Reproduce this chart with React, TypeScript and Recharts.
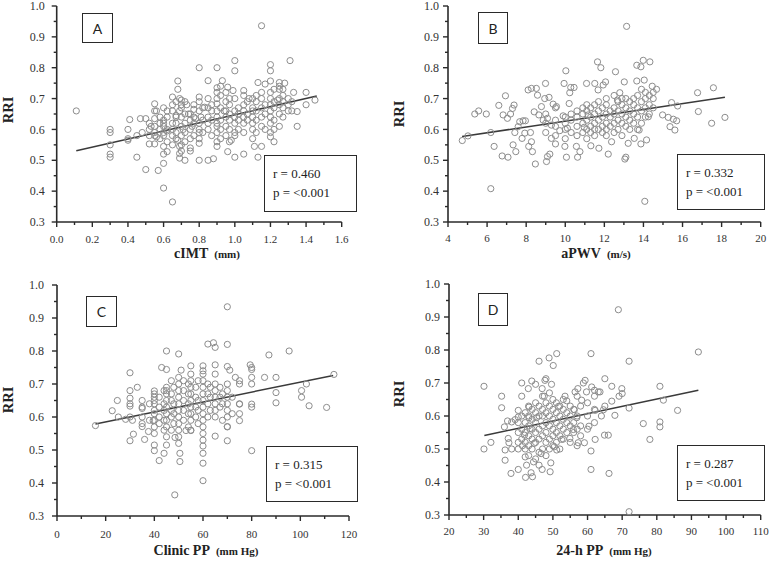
import React from "react"
import { ScatterChart, Scatter, XAxis, YAxis, ReferenceLine } from "recharts"

// RRI axis (shared by the four panels)
const rriMajor = [0.3, 0.4, 0.5, 0.6, 0.7, 0.8, 0.9, 1.0]
const rriMinor = [0.35, 0.45, 0.55, 0.65, 0.75, 0.85, 0.95]

// A: cIMT (mm)
const cimtMajor = [0, 0.2, 0.4, 0.6, 0.8, 1.0, 1.2, 1.4, 1.6]
const cimtMinor = [0.1, 0.3, 0.5, 0.7, 0.9, 1.1, 1.3, 1.5]
const cimtFit = [{ x: 0.11, y: 0.531 }, { x: 1.46, y: 0.708 }]
const cimtPoints: [number, number][] = [
  [0.11, 0.66], [0.3, 0.6], [0.3, 0.59], [0.3, 0.55], [0.3, 0.52], [0.3, 0.51], [0.4, 0.6], [0.4, 0.57],
  [0.4, 0.565], [0.41, 0.632], [0.45, 0.51], [0.45, 0.58], [0.47, 0.635], [0.5, 0.635], [0.48, 0.59],
  [0.5, 0.47], [0.52, 0.553], [0.53, 0.61], [0.55, 0.683], [0.55, 0.635], [0.55, 0.553], [0.56, 0.66],
  [0.56, 0.576], [0.57, 0.467], [0.58, 0.6], [0.6, 0.67], [0.6, 0.63], [0.6, 0.545], [0.6, 0.52],
  [0.6, 0.49], [0.6, 0.41], [0.62, 0.595], [0.62, 0.528], [0.65, 0.705], [0.65, 0.68], [0.65, 0.365],
  [0.67, 0.645], [0.68, 0.757], [0.68, 0.73], [0.68, 0.565], [0.69, 0.7], [0.69, 0.66], [0.69, 0.545],
  [0.69, 0.522], [0.69, 0.507], [0.7, 0.695], [0.71, 0.6], [0.72, 0.5], [0.73, 0.68], [0.74, 0.65],
  [0.75, 0.53], [0.76, 0.61], [0.77, 0.665], [0.78, 0.635], [0.8, 0.8], [0.8, 0.705], [0.8, 0.59],
  [0.8, 0.555], [0.8, 0.5], [0.81, 0.64], [0.83, 0.672], [0.85, 0.758], [0.85, 0.5], [0.88, 0.505],
  [0.9, 0.8], [0.9, 0.735], [0.9, 0.683], [0.9, 0.61], [0.9, 0.545], [0.93, 0.758], [0.94, 0.66],
  [0.96, 0.737], [0.96, 0.528], [0.98, 0.565], [0.99, 0.726], [1.0, 0.823], [1.0, 0.79], [1.0, 0.51],
  [1.0, 0.59], [1.05, 0.726], [1.05, 0.52], [1.08, 0.7], [1.1, 0.66], [1.11, 0.545], [1.13, 0.752],
  [1.13, 0.51], [1.15, 0.936], [1.15, 0.545], [1.17, 0.747], [1.2, 0.81], [1.2, 0.79], [1.2, 0.757],
  [1.2, 0.576], [1.22, 0.56], [1.24, 0.695], [1.25, 0.752], [1.28, 0.75], [1.31, 0.823], [1.33, 0.72],
  [1.35, 0.61], [1.35, 0.658], [1.4, 0.72], [1.4, 0.68], [1.45, 0.695],
  [0.52, 0.58], [0.52, 0.6], [0.52, 0.62], [0.55, 0.59], [0.55, 0.61], [0.55, 0.58], [0.55, 0.66],
  [0.58, 0.57], [0.58, 0.62], [0.58, 0.64], [0.6, 0.58], [0.6, 0.59], [0.6, 0.62], [0.6, 0.61],
  [0.62, 0.56], [0.62, 0.6], [0.62, 0.64], [0.62, 0.66], [0.65, 0.55], [0.65, 0.58], [0.65, 0.6],
  [0.65, 0.62], [0.65, 0.66], [0.67, 0.57], [0.67, 0.59], [0.67, 0.62], [0.67, 0.64], [0.67, 0.69],
  [0.7, 0.53], [0.7, 0.55], [0.7, 0.58], [0.7, 0.61], [0.7, 0.64], [0.7, 0.67], [0.7, 0.68],
  [0.72, 0.56], [0.72, 0.59], [0.72, 0.62], [0.72, 0.65], [0.72, 0.69], [0.75, 0.54], [0.75, 0.57],
  [0.75, 0.6], [0.75, 0.63], [0.75, 0.65], [0.77, 0.58], [0.77, 0.62], [0.77, 0.64], [0.77, 0.68],
  [0.8, 0.57], [0.8, 0.6], [0.8, 0.62], [0.8, 0.66], [0.8, 0.69], [0.82, 0.59], [0.82, 0.63],
  [0.82, 0.67], [0.85, 0.6], [0.85, 0.62], [0.85, 0.64], [0.85, 0.67], [0.85, 0.7], [0.87, 0.58],
  [0.87, 0.63], [0.87, 0.66], [0.87, 0.68], [0.9, 0.56], [0.9, 0.59], [0.9, 0.62], [0.9, 0.64],
  [0.9, 0.66], [0.9, 0.7], [0.9, 0.72], [0.92, 0.57], [0.92, 0.6], [0.92, 0.63], [0.92, 0.67],
  [0.92, 0.71], [0.92, 0.74], [0.95, 0.58], [0.95, 0.61], [0.95, 0.64], [0.95, 0.66], [0.95, 0.69],
  [0.95, 0.72], [0.97, 0.56], [0.97, 0.6], [0.97, 0.63], [0.97, 0.65], [0.97, 0.68], [0.97, 0.7],
  [1.0, 0.58], [1.0, 0.62], [1.0, 0.64], [1.0, 0.66], [1.0, 0.7], [1.02, 0.6], [1.02, 0.63],
  [1.02, 0.65], [1.02, 0.67], [1.05, 0.59], [1.05, 0.62], [1.05, 0.64], [1.05, 0.66], [1.05, 0.68],
  [1.05, 0.71], [1.07, 0.63], [1.07, 0.65], [1.07, 0.69], [1.1, 0.57], [1.1, 0.6], [1.1, 0.62],
  [1.1, 0.64], [1.1, 0.67], [1.1, 0.7], [1.12, 0.59], [1.12, 0.63], [1.12, 0.66], [1.12, 0.69],
  [1.12, 0.71], [1.15, 0.61], [1.15, 0.64], [1.15, 0.67], [1.15, 0.7], [1.15, 0.72], [1.17, 0.6],
  [1.17, 0.65], [1.17, 0.68], [1.2, 0.59], [1.2, 0.62], [1.2, 0.64], [1.2, 0.66], [1.2, 0.68],
  [1.2, 0.7], [1.2, 0.72], [1.22, 0.6], [1.22, 0.63], [1.22, 0.67], [1.22, 0.69], [1.22, 0.73],
  [1.25, 0.61], [1.25, 0.65], [1.25, 0.68], [1.25, 0.7], [1.25, 0.73], [1.25, 0.74], [1.27, 0.64],
  [1.27, 0.67], [1.27, 0.69], [1.27, 0.71], [1.27, 0.73], [1.3, 0.66], [1.3, 0.68], [1.3, 0.7],
  [1.32, 0.66], [1.32, 0.69],
]

// B: aPWV (m/s)
const pwvMajor = [4, 6, 8, 10, 12, 14, 16, 18, 20]
const pwvMinor = [5, 7, 9, 11, 13, 15, 17, 19]
const pwvFit = [{ x: 4.72, y: 0.577 }, { x: 18.17, y: 0.704 }]
const pwvPoints: [number, number][] = [
  [4.73, 0.564], [5.02, 0.579], [5.37, 0.65], [5.57, 0.66], [5.96, 0.65], [6.19, 0.59], [6.19, 0.408],
  [6.36, 0.545], [6.6, 0.678], [6.77, 0.514], [6.82, 0.647], [6.94, 0.709], [7.04, 0.636], [7.07, 0.51],
  [7.2, 0.65], [7.3, 0.668], [7.33, 0.55], [7.38, 0.679], [7.42, 0.59], [7.47, 0.528], [7.59, 0.609],
  [7.67, 0.625], [7.79, 0.571], [7.84, 0.628], [7.93, 0.588], [7.96, 0.628], [8.1, 0.728], [8.13, 0.545],
  [8.22, 0.59], [8.27, 0.56], [8.32, 0.528], [8.27, 0.733], [8.41, 0.657], [8.47, 0.488], [8.52, 0.733],
  [8.58, 0.711], [8.65, 0.647], [8.78, 0.674], [8.87, 0.63], [8.95, 0.7], [8.99, 0.749], [9.09, 0.512],
  [9.04, 0.496], [9.09, 0.636], [9.17, 0.704], [9.21, 0.52], [9.29, 0.614], [9.29, 0.571], [9.38, 0.682],
  [9.5, 0.553], [9.55, 0.674], [9.72, 0.596], [9.89, 0.644], [9.94, 0.749], [9.98, 0.545], [10.03, 0.79],
  [10.06, 0.51], [10.11, 0.604], [10.2, 0.684], [10.23, 0.719], [10.28, 0.736], [10.45, 0.736],
  [10.57, 0.545], [10.63, 0.51], [10.75, 0.528], [10.97, 0.607], [11.09, 0.749], [11.17, 0.647],
  [11.31, 0.547], [11.51, 0.749], [11.65, 0.819], [11.68, 0.728], [11.72, 0.539], [11.82, 0.8],
  [11.94, 0.744], [12.06, 0.754], [12.2, 0.52], [12.37, 0.56], [12.57, 0.787], [12.67, 0.695],
  [12.79, 0.719], [13.02, 0.754], [13.05, 0.504], [13.1, 0.51], [13.14, 0.934], [13.22, 0.555],
  [13.53, 0.571], [13.66, 0.757], [13.66, 0.808], [13.78, 0.598], [13.87, 0.803], [13.87, 0.553],
  [13.99, 0.824], [14.04, 0.76], [14.07, 0.367], [14.16, 0.566], [14.25, 0.641], [14.33, 0.819],
  [14.45, 0.74], [14.67, 0.73], [14.98, 0.647], [15.27, 0.639], [15.36, 0.609], [15.44, 0.687],
  [15.53, 0.633], [15.61, 0.598], [15.7, 0.628], [15.75, 0.676], [16.77, 0.719], [16.81, 0.658],
  [17.49, 0.62], [17.58, 0.735], [18.17, 0.639],
  [9.0, 0.59], [9.0, 0.62], [9.0, 0.65], [9.5, 0.58], [9.5, 0.61], [9.5, 0.63], [9.5, 0.67],
  [10.0, 0.57], [10.0, 0.6], [10.0, 0.62], [10.0, 0.64], [10.3, 0.59], [10.3, 0.63], [10.3, 0.65],
  [10.6, 0.58], [10.6, 0.61], [10.6, 0.64], [10.6, 0.66], [10.9, 0.59], [10.9, 0.62], [10.9, 0.65],
  [10.9, 0.67], [11.1, 0.57], [11.1, 0.6], [11.1, 0.63], [11.1, 0.66], [11.1, 0.68], [11.3, 0.59],
  [11.3, 0.61], [11.3, 0.64], [11.3, 0.67], [11.5, 0.58], [11.5, 0.6], [11.5, 0.62], [11.5, 0.65],
  [11.5, 0.68], [11.7, 0.6], [11.7, 0.63], [11.7, 0.66], [11.7, 0.69], [11.9, 0.59], [11.9, 0.61],
  [11.9, 0.64], [11.9, 0.67], [12.1, 0.58], [12.1, 0.6], [12.1, 0.62], [12.1, 0.65], [12.1, 0.68],
  [12.1, 0.7], [12.3, 0.61], [12.3, 0.64], [12.3, 0.66], [12.5, 0.59], [12.5, 0.62], [12.5, 0.65],
  [12.5, 0.67], [12.5, 0.71], [12.7, 0.6], [12.7, 0.63], [12.7, 0.66], [12.7, 0.69], [12.9, 0.58],
  [12.9, 0.62], [12.9, 0.65], [12.9, 0.68], [12.9, 0.7], [13.1, 0.61], [13.1, 0.64], [13.1, 0.67],
  [13.1, 0.7], [13.3, 0.6], [13.3, 0.63], [13.3, 0.66], [13.3, 0.69], [13.5, 0.62], [13.5, 0.65],
  [13.5, 0.68], [13.5, 0.7], [13.7, 0.6], [13.7, 0.64], [13.7, 0.67], [13.7, 0.71], [13.9, 0.62],
  [13.9, 0.66], [13.9, 0.69], [13.9, 0.73], [14.1, 0.64], [14.1, 0.67], [14.1, 0.7], [14.1, 0.72],
  [14.3, 0.65], [14.3, 0.68], [14.3, 0.71], [14.5, 0.67], [14.5, 0.7], [14.5, 0.72],
]

// C: Clinic PP (mm Hg)
const clinicMajor = [0, 20, 40, 60, 80, 100, 120]
const clinicMinor = [10, 30, 50, 70, 90, 110]
const clinicFit = [{ x: 15.8, y: 0.579 }, { x: 113.5, y: 0.726 }]
const clinicPoints: [number, number][] = [
  [15.8, 0.574], [22.7, 0.619], [24.8, 0.65], [25.2, 0.6], [28.2, 0.593], [30, 0.734], [30, 0.68],
  [30, 0.657], [30, 0.633], [30, 0.528], [31, 0.59], [31.4, 0.548], [33, 0.69], [35, 0.65], [35, 0.626],
  [35, 0.6], [35, 0.571], [36, 0.532], [37.6, 0.556], [39.5, 0.589], [40, 0.679], [40, 0.515],
  [40, 0.498], [42, 0.468], [43, 0.75], [44, 0.49], [45, 0.744], [45, 0.8], [45, 0.515], [47, 0.71],
  [48.5, 0.538], [48.4, 0.364], [50, 0.791], [50.5, 0.49], [50.5, 0.465], [51, 0.742], [53, 0.559],
  [55, 0.755], [55, 0.559], [60, 0.46], [60, 0.407], [60, 0.755], [60, 0.49], [60, 0.512], [62, 0.821],
  [64.3, 0.825], [65, 0.811], [65, 0.542], [65, 0.758], [70, 0.934], [70, 0.82], [70, 0.753], [70, 0.528],
  [70, 0.571], [71, 0.742], [73.3, 0.72], [75, 0.71], [75, 0.639], [75, 0.589], [79.4, 0.758],
  [80, 0.744], [80, 0.498], [80, 0.639], [80, 0.7], [85.3, 0.72], [87.1, 0.788], [90, 0.72], [90, 0.674],
  [90, 0.643], [95.4, 0.8], [100.5, 0.68], [100.5, 0.66], [102.5, 0.7], [103.6, 0.634], [110.8, 0.629],
  [113.8, 0.729],
  [30, 0.6], [30, 0.64], [35, 0.58], [35, 0.63], [38, 0.59], [38, 0.64], [40, 0.55], [40, 0.57],
  [40, 0.59], [40, 0.61], [40, 0.62], [40, 0.64], [40, 0.65], [40, 0.66], [40, 0.67], [42, 0.58],
  [42, 0.6], [42, 0.63], [42, 0.66], [44, 0.56], [44, 0.59], [44, 0.62], [44, 0.64], [44, 0.68],
  [45, 0.54], [45, 0.57], [45, 0.59], [45, 0.61], [45, 0.63], [45, 0.65], [45, 0.67], [45, 0.68],
  [45, 0.69], [47, 0.56], [47, 0.6], [47, 0.62], [47, 0.65], [47, 0.67], [48, 0.58], [48, 0.61],
  [48, 0.64], [48, 0.69], [50, 0.52], [50, 0.54], [50, 0.56], [50, 0.58], [50, 0.6], [50, 0.62],
  [50, 0.64], [50, 0.66], [50, 0.68], [50, 0.7], [50, 0.72], [52, 0.59], [52, 0.62], [52, 0.65],
  [52, 0.68], [52, 0.71], [54, 0.57], [54, 0.61], [54, 0.64], [54, 0.67], [54, 0.7], [55, 0.56],
  [55, 0.59], [55, 0.61], [55, 0.63], [55, 0.65], [55, 0.67], [55, 0.69], [55, 0.71], [55, 0.73],
  [57, 0.6], [57, 0.63], [57, 0.66], [57, 0.69], [58, 0.58], [58, 0.62], [58, 0.65], [58, 0.71],
  [60, 0.53], [60, 0.55], [60, 0.57], [60, 0.59], [60, 0.61], [60, 0.63], [60, 0.65], [60, 0.67],
  [60, 0.69], [60, 0.71], [60, 0.73], [60, 0.74], [62, 0.6], [62, 0.64], [62, 0.67], [62, 0.7],
  [63, 0.62], [63, 0.66], [63, 0.69], [65, 0.6], [65, 0.62], [65, 0.64], [65, 0.66], [65, 0.68],
  [65, 0.7], [65, 0.73], [67, 0.63], [67, 0.66], [67, 0.69], [68, 0.59], [68, 0.64], [68, 0.67],
  [70, 0.57], [70, 0.6], [70, 0.62], [70, 0.64], [70, 0.66], [70, 0.68], [70, 0.7], [72, 0.61],
  [72, 0.66], [75, 0.61], [75, 0.64], [75, 0.7], [80, 0.63], [80, 0.72], [80, 0.75],
]

// D: 24-h PP (mm Hg)
const ambMajor = [20, 30, 40, 50, 60, 70, 80, 90, 100, 110]
const ambMinor = [25, 35, 45, 55, 65, 75, 85, 95, 105]
const ambFit = [{ x: 30.2, y: 0.541 }, { x: 92, y: 0.678 }]
const ambPoints: [number, number][] = [
  [30.1, 0.69], [30.1, 0.5], [32.1, 0.52], [35.2, 0.66], [35.2, 0.625], [36, 0.567], [36.2, 0.497],
  [36.2, 0.466], [36.9, 0.585], [37.1, 0.532], [37.3, 0.519], [37.9, 0.426], [38.1, 0.5], [38.1, 0.582],
  [39.1, 0.589], [40, 0.617], [40, 0.597], [40, 0.5], [40, 0.438], [41, 0.66], [41, 0.7], [41.2, 0.51],
  [41.8, 0.542], [42, 0.476], [42.1, 0.414], [42.4, 0.451], [42.9, 0.683], [43.1, 0.627], [43.1, 0.595],
  [43.4, 0.562], [43.7, 0.428], [43.9, 0.706], [44.1, 0.416], [44.4, 0.461], [44.6, 0.517], [45, 0.696],
  [45.3, 0.595], [46, 0.766], [46, 0.451], [46.6, 0.486], [46.9, 0.683], [46.9, 0.438], [47.5, 0.66],
  [47.7, 0.708], [48, 0.713], [48.9, 0.776], [49.2, 0.431], [49.4, 0.458], [49.6, 0.696], [50.1, 0.753],
  [50.4, 0.507], [51.1, 0.789], [51.1, 0.497], [51.6, 0.629], [52.5, 0.529], [53.5, 0.66], [54, 0.646],
  [54.9, 0.532], [55.9, 0.559], [56.2, 0.619], [56.4, 0.673], [56.9, 0.595], [57.2, 0.683], [57.3, 0.519],
  [58.3, 0.648], [58.8, 0.7], [59.1, 0.519], [59.3, 0.708], [59.7, 0.673], [60.4, 0.569], [61, 0.789],
  [61, 0.494], [61, 0.438], [61.2, 0.688], [62, 0.678], [62.2, 0.529], [62.2, 0.617], [63.1, 0.673],
  [63.6, 0.673], [64.6, 0.619], [64.9, 0.542], [65, 0.713], [66, 0.542], [66.2, 0.426], [67, 0.69],
  [67, 0.645], [67.9, 0.602], [68.9, 0.922], [69.1, 0.66], [69.9, 0.683], [70, 0.668], [72, 0.766],
  [72, 0.624], [72, 0.31], [76.1, 0.577], [78, 0.529], [80.9, 0.69], [80.9, 0.582], [80.9, 0.567],
  [81.9, 0.648], [86, 0.617], [92, 0.794],
  [40, 0.52], [40, 0.55], [40, 0.58], [41, 0.53], [41, 0.56], [41, 0.6], [42, 0.5], [42, 0.52],
  [42, 0.55], [42, 0.58], [42, 0.61], [43, 0.48], [43, 0.51], [43, 0.54], [43, 0.57], [43, 0.6],
  [43, 0.63], [44, 0.5], [44, 0.53], [44, 0.56], [44, 0.59], [44, 0.62], [45, 0.47], [45, 0.52],
  [45, 0.55], [45, 0.58], [45, 0.61], [45, 0.64], [46, 0.49], [46, 0.53], [46, 0.56], [46, 0.6],
  [46, 0.63], [47, 0.5], [47, 0.54], [47, 0.57], [47, 0.6], [47, 0.62], [47, 0.66], [48, 0.48],
  [48, 0.52], [48, 0.55], [48, 0.58], [48, 0.61], [48, 0.64], [49, 0.5], [49, 0.53], [49, 0.57],
  [49, 0.6], [49, 0.63], [49, 0.67], [50, 0.51], [50, 0.54], [50, 0.56], [50, 0.59], [50, 0.62],
  [50, 0.65], [51, 0.52], [51, 0.55], [51, 0.58], [51, 0.61], [51, 0.64], [52, 0.5], [52, 0.54],
  [52, 0.57], [52, 0.6], [52, 0.63], [53, 0.53], [53, 0.56], [53, 0.59], [53, 0.62], [53, 0.65],
  [54, 0.55], [54, 0.58], [54, 0.61], [55, 0.52], [55, 0.57], [55, 0.6], [55, 0.63], [56, 0.55],
  [56, 0.58], [56, 0.62], [57, 0.51], [57, 0.56], [57, 0.6], [57, 0.66], [58, 0.54], [58, 0.57],
  [58, 0.63], [60, 0.56], [60, 0.6], [60, 0.64], [62, 0.58], [62, 0.62], [62, 0.66], [64, 0.6],
  [65, 0.63],
]

const SERIF = "'Liberation Serif', 'Times New Roman', serif"
const INK = "#2a2a2a"

type PanelDef = {
  letter: string
  points: [number, number][]
  fit: { x: number; y: number }[]
  xMajor: number[]
  xMinor: number[]
  digits: number
  title: string
  unit: string
  r: string
  // layout
  left: number
  top: number
  width: number
  height: number
  margin: { top: number; right: number; bottom: number; left: number }
  yGap: number
  xGap: number
  titleX: number
  titleY: number
  rriX: number
  rriY: number
  letterBox: [number, number, number, number]
  statBox: [number, number, number, number]
}

// the lower charts start 10px higher (with a larger top margin) so the "1.0" label is not clipped
const panels: PanelDef[] = [
  {
    letter: "A", points: cimtPoints, fit: cimtFit, xMajor: cimtMajor, xMinor: cimtMinor, digits: 1,
    title: "cIMT", unit: "(mm)", r: "0.460",
    left: 0, top: 0, width: 385, height: 280, margin: { top: 6, right: 43.3, bottom: 28, left: 6.7 },
    yGap: 12, xGap: 13, titleX: 207, titleY: 261, rriX: 8, rriY: 110,
    letterBox: [82, 13, 31, 30], statBox: [264, 155, 93, 57],
  },
  {
    letter: "B", points: pwvPoints, fit: pwvFit, xMajor: pwvMajor, xMinor: pwvMinor, digits: 0,
    title: "aPWV", unit: "(m/s)", r: "0.332",
    left: 385, top: 0, width: 386, height: 280, margin: { top: 6, right: 10.3, bottom: 28, left: 13 },
    yGap: 9, xGap: 12, titleX: 596, titleY: 261, rriX: 399, rriY: 114,
    letterBox: [478, 12, 30, 32], statBox: [677, 154, 88, 56],
  },
  {
    letter: "C", points: clinicPoints, fit: clinicFit, xMajor: clinicMajor, xMinor: clinicMinor, digits: 0,
    title: "Clinic PP", unit: "(mm Hg)", r: "0.315",
    left: 0, top: 270, width: 385, height: 291, margin: { top: 15, right: 36, bottom: 15, left: 7 },
    yGap: 13, xGap: 14, titleX: 206, titleY: 558, rriX: 8, rriY: 400,
    letterBox: [86, 296, 31, 31], statBox: [266, 446, 92, 56],
  },
  {
    letter: "D", points: ambPoints, fit: ambFit, xMajor: ambMajor, xMinor: ambMinor, digits: 0,
    title: "24-h PP", unit: "(mm Hg)", r: "0.287",
    left: 385, top: 270, width: 386, height: 291, margin: { top: 14, right: 10.3, bottom: 16, left: 14 },
    yGap: 9, xGap: 12, titleX: 604, titleY: 558, rriX: 399, rriY: 394,
    letterBox: [478, 293, 30, 33], statBox: [677, 445, 88, 56],
  },
]

const rriTicks = [...rriMajor, ...rriMinor].sort((a, b) => a - b)

function HollowDot(props: any) {
  return <circle cx={props.cx} cy={props.cy} r={3.1} fill="none" stroke="#8d8d8d" strokeWidth={1} />
}

function Panel({ p }: { p: PanelDef }) {
  const xTicks = [...p.xMajor, ...p.xMinor].sort((a, b) => a - b)
  const data = p.points.map(([x, y]) => ({ x, y }))

  const xTick = (t: any) => {
    const major = p.xMajor.includes(t.payload.value)
    return (
      <g>
        <line x1={t.x} y1={t.y} x2={t.x} y2={t.y + (major ? 5 : 3)} stroke={INK} strokeWidth={1.4} />
        {major && (
          <text x={t.x} y={t.y + p.xGap} dy="0.71em" textAnchor="middle" fontSize={11} fontFamily={SERIF} fill="#333">
            {t.payload.value.toFixed(p.digits)}
          </text>
        )}
      </g>
    )
  }

  const yTick = (t: any) => {
    const major = rriMajor.includes(t.payload.value)
    return (
      <g>
        <line x1={t.x - (major ? 5 : 3)} y1={t.y} x2={t.x} y2={t.y} stroke={INK} strokeWidth={1.4} />
        {major && (
          <text x={t.x - p.yGap} y={t.y} dy="0.35em" textAnchor="end" fontSize={12} fontFamily={SERIF} fill="#333">
            {t.payload.value.toFixed(1)}
          </text>
        )}
      </g>
    )
  }

  return (
    <div style={{ position: "absolute", left: p.left, top: p.top, width: p.width, height: p.height }}>
      <ScatterChart width={p.width} height={p.height} margin={p.margin}>
        <XAxis
          type="number"
          dataKey="x"
          domain={[p.xMajor[0], p.xMajor[p.xMajor.length - 1]]}
          ticks={xTicks}
          interval={0}
          tickSize={0}
          tickMargin={0}
          tickLine={false}
          tick={xTick}
          height={30}
          axisLine={{ stroke: INK, strokeWidth: 1.6 }}
          allowDataOverflow
        />
        <YAxis
          type="number"
          dataKey="y"
          domain={[0.3, 1.0]}
          ticks={rriTicks}
          interval={0}
          tickSize={0}
          tickMargin={0}
          tickLine={false}
          tick={yTick}
          width={50}
          axisLine={{ stroke: INK, strokeWidth: 1.6 }}
          allowDataOverflow
        />
        <Scatter data={data} shape={HollowDot} isAnimationActive={false} />
        <ReferenceLine
          segment={[p.fit[0], p.fit[1]]}
          stroke="#3a3a3a"
          strokeWidth={1.5}
        />
      </ScatterChart>
    </div>
  )
}

function Overlay({ p }: { p: PanelDef }) {
  const [lx, ly, lw, lh] = p.letterBox
  const [sx, sy, sw, sh] = p.statBox
  return (
    <>
      <div
        style={{
          position: "absolute", left: lx, top: ly, width: lw, height: lh, boxSizing: "border-box",
          border: `1px solid ${INK}`, background: "#fff", display: "flex", alignItems: "center",
          justifyContent: "center", fontFamily: "Lato, 'Open Sans', sans-serif", fontSize: 14, color: "#222",
        }}
      >
        {p.letter}
      </div>
      <div
        style={{
          position: "absolute", left: sx, top: sy, width: sw, height: sh, boxSizing: "border-box",
          border: `1px solid ${INK}`, background: "#fff", fontFamily: SERIF, fontSize: 13, color: "#222",
          paddingLeft: 8, paddingTop: 8, lineHeight: "19px",
        }}
      >
        <div>r = {p.r}</div>
        <div>p = &lt;0.001</div>
      </div>
      <div
        style={{
          position: "absolute", left: p.titleX, top: p.titleY, transform: "translate(-50%, -100%)",
          whiteSpace: "nowrap", fontFamily: SERIF, fontWeight: "bold", color: "#222", lineHeight: 1,
        }}
      >
        <span style={{ fontSize: 14 }}>{p.title}</span>
        <span style={{ fontSize: 11, marginLeft: 6 }}>{p.unit}</span>
      </div>
      <div
        style={{
          position: "absolute", left: p.rriX, top: p.rriY, transform: "translate(-50%, -50%) rotate(-90deg)",
          whiteSpace: "nowrap", fontFamily: SERIF, fontWeight: "bold", fontSize: 14.5, color: "#222", lineHeight: 1,
        }}
      >
        RRI
      </div>
    </>
  )
}

export default function App() {
  return (
    <div style={{ position: "absolute", left: 0, top: 0, width: 771, height: 561, background: "#fff", overflow: "hidden" }}>
      {panels.map((p) => (
        <Panel key={p.letter} p={p} />
      ))}
      {panels.map((p) => (
        <Overlay key={p.letter} p={p} />
      ))}
    </div>
  )
}
